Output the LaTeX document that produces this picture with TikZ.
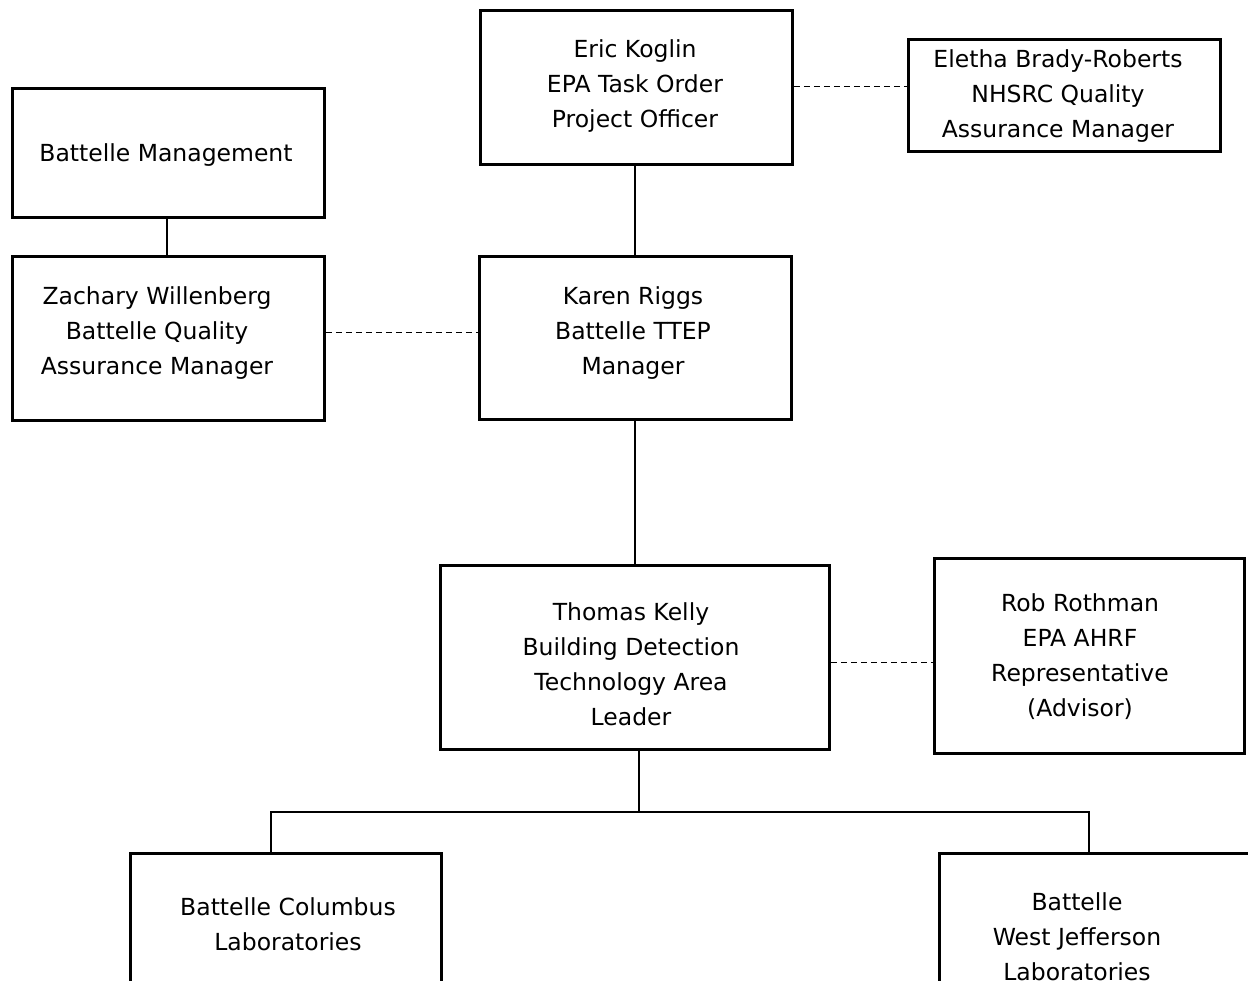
\documentclass[tikz,border=0pt]{standalone}
\usepackage{fontspec}
\setmainfont{DejaVu Sans}
\begin{document}
\begin{tikzpicture}[x=1pt,y=-1pt,
  box/.style={draw=black,line width=2.8pt,fill=white,inner sep=0pt,anchor=north west},
  txt/.style={align=center,font=\fontsize{23.5}{35}\selectfont,inner sep=0pt},
  solidline/.style={line width=2.2pt},
  dashline/.style={line width=1pt,dash pattern=on 6pt off 4pt}]
\useasboundingbox (0,0) rectangle (1248,981);
\clip (0,0) rectangle (1248,981);
% boxes
\node[box,minimum width=312pt,minimum height=154pt] (eric) at (479,9) {};
\node[box,minimum width=312pt,minimum height=112pt] (eletha) at (907,38) {};
\node[box,minimum width=312pt,minimum height=129pt] (mgmt) at (11,87) {};
\node[box,minimum width=312pt,minimum height=164pt] (zach) at (11,255) {};
\node[box,minimum width=312pt,minimum height=163pt] (karen) at (478,255) {};
\node[box,minimum width=389pt,minimum height=184pt] (thomas) at (439,564) {};
\node[box,minimum width=310pt,minimum height=195pt] (rob) at (933,557) {};
\node[box,minimum width=311pt,minimum height=160pt] (cols) at (129,852) {};
\node[box,minimum width=330pt,minimum height=160pt] (wj) at (938,852) {};
% texts
\node[txt] (ericT) at (635,86) {Eric Koglin\\EPA Task Order\\Project Officer};
\node[txt] (elethaT) at (1058,96) {Eletha Brady-Roberts\\NHSRC Quality\\Assurance Manager};
\node[txt] (mgmtT) at (166,155) {Battelle Management};
\node[txt] (zachT) at (157,333) {Zachary Willenberg\\Battelle Quality\\Assurance Manager};
\node[txt] (karenT) at (633,333) {Karen Riggs\\Battelle TTEP\\Manager};
\node[txt] (thomasT) at (631,664) {Thomas Kelly\\Building Detection\\Technology Area\\Leader};
\node[txt] (robT) at (1080,657) {Rob Rothman\\EPA AHRF\\Representative\\(Advisor)};
\node[txt] (colsT) at (288,924) {Battelle Columbus\\Laboratories};
\node[txt] (wjT) at (1077,937) {Battelle\\West Jefferson\\Laboratories};
% solid connectors
\draw[solidline] (eric.south -| 635,0) -- (karen.north -| 635,0);
\draw[solidline] (mgmt.south -| 167,0) -- (zach.north -| 167,0);
\draw[solidline] (karen.south -| 635,0) -- (thomas.north -| 635,0);
\coordinate (split) at (639,812);
\draw[solidline] (thomas.south -| split) -- (split);
\draw[solidline] (cols.north -| 271,0) |- (split) -| (wj.north -| 1089,0);
% dashed connectors
\draw[dashline] (eric.east |- 0,87) -- (eletha.west |- 0,87);
\draw[dashline] (zach.east |- 0,333) -- (karen.west |- 0,333);
\draw[dashline] (thomas.east |- 0,662) -- (rob.west |- 0,662);
\end{tikzpicture}
\end{document}
